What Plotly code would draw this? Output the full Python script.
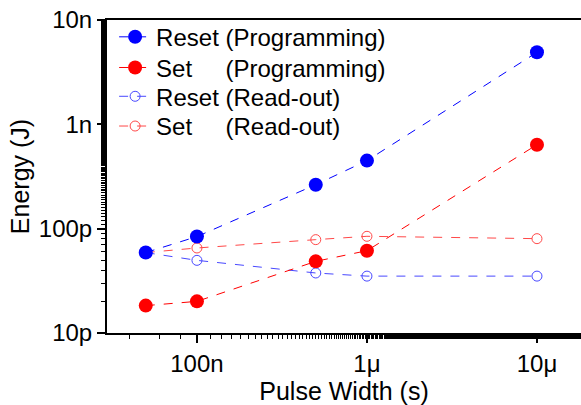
import plotly.graph_objects as go

# pulse widths (s)
pulse_width = [50e-9, 100e-9, 500e-9, 1e-6, 10e-6]

# energies (J)
reset_prog = [59e-12, 84e-12, 264e-12, 449e-12, 4.9e-9]
set_prog = [18.3e-12, 20.1e-12, 48.6e-12, 61.5e-12, 638e-12]
reset_read = [59e-12, 49.7e-12, 37.6e-12, 35.1e-12, 35.1e-12]
set_read = [59e-12, 65.3e-12, 78.5e-12, 84.5e-12, 80.2e-12]

x_tickvals = [1e-7, 1e-6, 1e-5]
x_ticktext = ['100n', '1\u03bc', '10\u03bc']
y_tickvals = [1e-11, 1e-10, 1e-9, 1e-8]
y_ticktext = ['10p', '100p', '1n', '10n']

BLUE = '#0000ff'
RED = '#ff0000'
BLUE_LIGHT = '#4848ff'
RED_LIGHT = '#ff4848'
FONT = 'Liberation Sans, Arial'
nb = '\u00a0'

fig = go.Figure()

# read-out first so the programming markers sit on top
fig.add_trace(go.Scatter(x=pulse_width, y=reset_read, name='Reset (Read-out)', legend='legend3',
                         mode='lines+markers', line=dict(color=BLUE_LIGHT, width=1, dash='dash'),
                         marker=dict(symbol='circle-open', size=10, color=BLUE_LIGHT, line=dict(width=1))))
fig.add_trace(go.Scatter(x=pulse_width, y=set_read, name='Set' + nb * 5 + '(Read-out)', legend='legend4',
                         mode='lines+markers', line=dict(color=RED_LIGHT, width=1, dash='dash'),
                         marker=dict(symbol='circle-open', size=10, color=RED_LIGHT, line=dict(width=1))))
fig.add_trace(go.Scatter(x=pulse_width, y=reset_prog, name='Reset (Programming)', legend='legend',
                         mode='lines+markers', line=dict(color=BLUE, width=1, dash='dash'),
                         marker=dict(symbol='circle', size=14, color=BLUE)))
fig.add_trace(go.Scatter(x=pulse_width, y=set_prog, name='Set' + nb * 5 + '(Programming)', legend='legend2',
                         mode='lines+markers', line=dict(color=RED, width=1, dash='dash'),
                         marker=dict(symbol='circle', size=14, color=RED)))

xrange = [-7.529, -4.741]
yrange = [-11, -8]


def row_legend(ypos):
    return dict(x=0.015, y=ypos, xanchor='left', yanchor='middle', bgcolor='rgba(0,0,0,0)',
                font=dict(size=24), itemwidth=32)


fig.update_layout(
    width=581, height=405,
    margin=dict(l=107, r=0, t=20, b=72),
    plot_bgcolor='white', paper_bgcolor='white',
    font=dict(family=FONT, size=24, color='black'),
    showlegend=True,
    legend=row_legend(0.945),
    legend2=row_legend(0.847),
    legend3=row_legend(0.755),
    legend4=row_legend(0.66),
    xaxis=dict(type='log', range=xrange, tickvals=x_tickvals, ticktext=x_ticktext, automargin=False,
               showgrid=False, zeroline=False, showline=True, mirror=True, linecolor='black', linewidth=2,
               ticks='outside', ticklen=8, tickwidth=1.5, tickcolor='black',
               tickfont=dict(size=24),
               minor=dict(ticks='outside', ticklen=4, tickwidth=1, tickcolor='black', showgrid=False),
               title=dict(text='Pulse Width (s)', font=dict(size=25), standoff=1)),
    yaxis=dict(type='log', range=yrange, tickvals=y_tickvals, ticktext=y_ticktext, automargin=False,
               showgrid=False, zeroline=False, showline=True, linecolor='black', linewidth=2,
               ticks='outside', ticklen=8, tickwidth=1.5, tickcolor='black',
               tickfont=dict(size=24),
               minor=dict(ticks='outside', ticklen=4, tickwidth=1, tickcolor='black', showgrid=False),
               title=dict(text='Energy (J)', font=dict(size=25), standoff=2)),
)

# drop the default page margin so the 581x405 figure fills the window exactly
fig.write_html("out.html", config=dict(displayModeBar=False),
               post_script="document.body.style.margin='0';"
                           "document.body.style.overflow='hidden';")
